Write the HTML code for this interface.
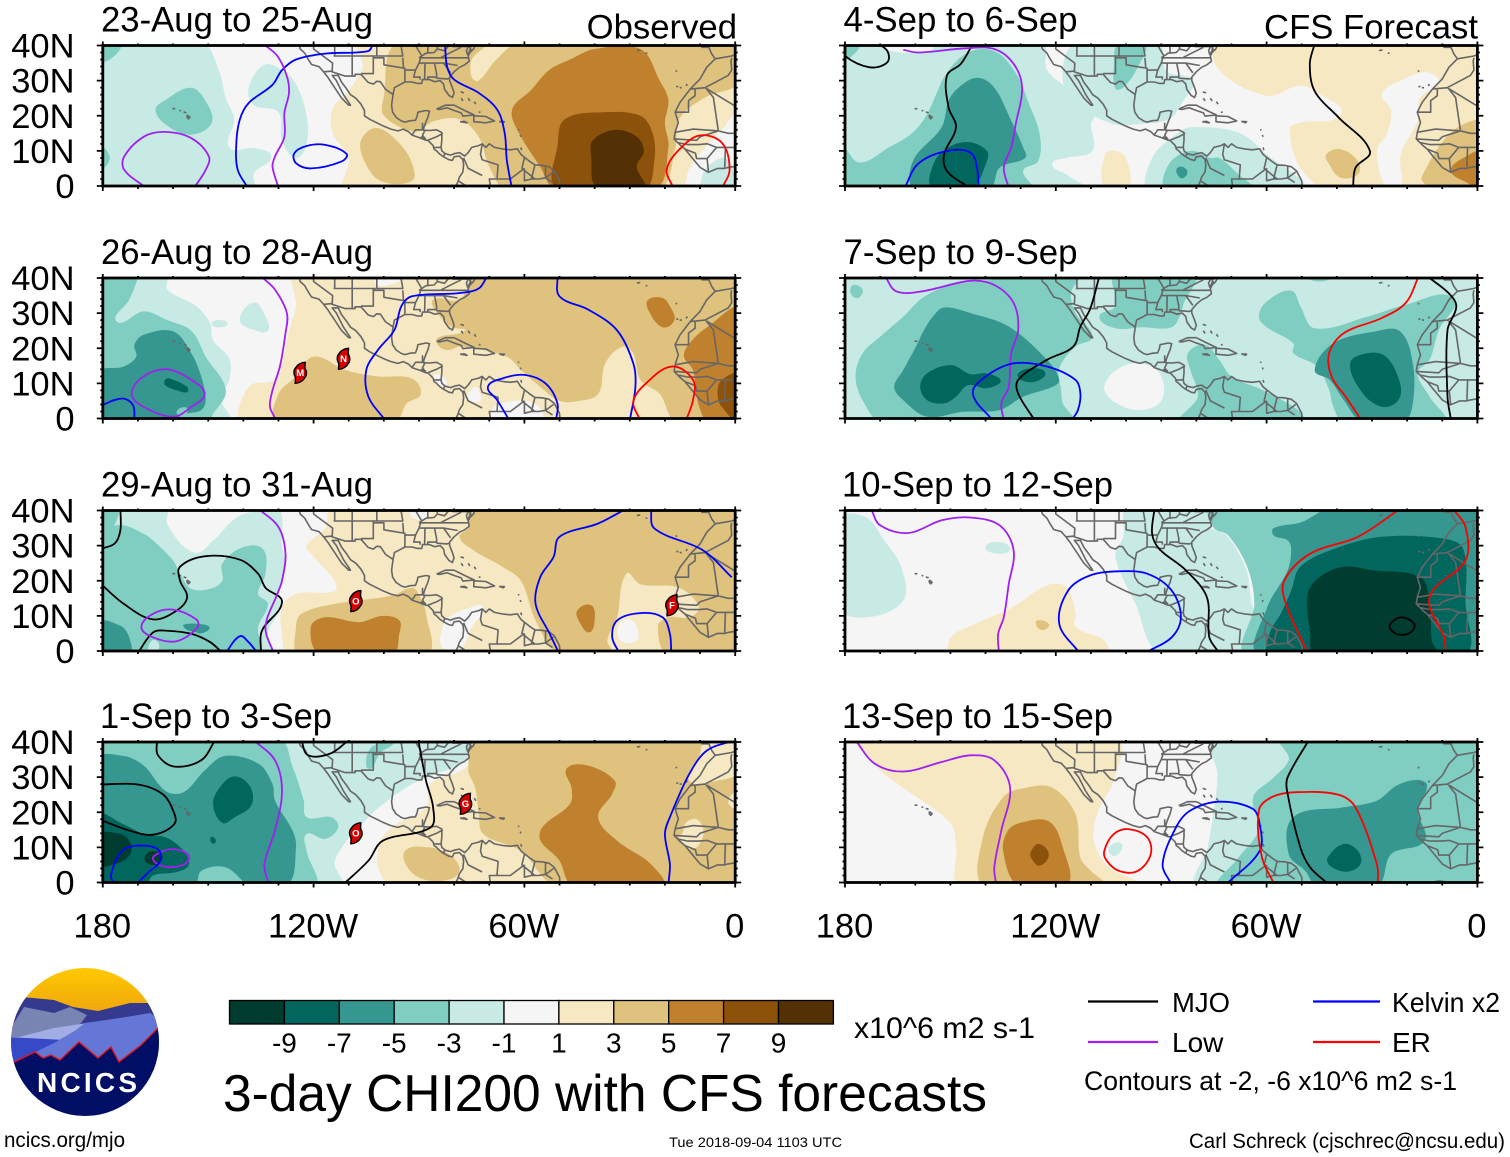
<!DOCTYPE html>
<html lang="en">
<head>
<meta charset="utf-8">
<title>3-day CHI200 with CFS forecasts</title>
<style>
html,body{margin:0;padding:0;background:#fff;width:1510px;height:1157px;overflow:hidden}
svg{display:block}
text{font-family:"Liberation Sans",Arial,sans-serif;fill:#000}
</style>
</head>
<body>
<svg id="chart" xmlns="http://www.w3.org/2000/svg" width="1510" height="1157" viewBox="0 0 1510 1157">
  <rect x="0" y="0" width="1510" height="1157" fill="#fff"/>
  <g id="panels"></g>

  <g id="colorbar"></g>
  <text x="854" y="1038" font-size="30" textLength="181" lengthAdjust="spacingAndGlyphs">x10^6 m2 s-1</text>
  <text x="223" y="1111" font-size="51.5" textLength="764" lengthAdjust="spacingAndGlyphs">3-day CHI200 with CFS forecasts</text>

  <g>
    <line x1="1088" x2="1158" y1="1001.5" y2="1001.5" stroke="#000" stroke-width="2.2"/>
    <text x="1172" y="1012" font-size="28" textLength="58" lengthAdjust="spacingAndGlyphs">MJO</text>
    <line x1="1313" x2="1380" y1="1001.5" y2="1001.5" stroke="#0000ff" stroke-width="2.2"/>
    <text x="1392" y="1012" font-size="28" textLength="108" lengthAdjust="spacingAndGlyphs">Kelvin x2</text>
    <line x1="1088" x2="1158" y1="1042" y2="1042" stroke="#a020f0" stroke-width="2.2"/>
    <text x="1172" y="1052" font-size="28">Low</text>
    <line x1="1313" x2="1380" y1="1042" y2="1042" stroke="#ff0000" stroke-width="2.2"/>
    <text x="1392" y="1052" font-size="28">ER</text>
    <text x="1084" y="1090" font-size="27" textLength="373" lengthAdjust="spacingAndGlyphs">Contours at -2, -6 x10^6 m2 s-1</text>
  </g>

  <text x="4" y="1147" font-size="21" textLength="121" lengthAdjust="spacingAndGlyphs">ncics.org/mjo</text>
  <text x="669" y="1147" font-size="14" textLength="173" lengthAdjust="spacingAndGlyphs">Tue 2018-09-04 1103 UTC</text>
  <text x="1189" y="1148" font-size="21" textLength="316" lengthAdjust="spacingAndGlyphs">Carl Schreck (cjschrec@ncsu.edu)</text>

  <g>
    <defs>
      <clipPath id="logoClip"><ellipse cx="85" cy="1042" rx="74" ry="74"/></clipPath>
      <linearGradient id="sky" x1="0" y1="0" x2="0" y2="1"><stop offset="0" stop-color="#ffca00"/><stop offset="1" stop-color="#eb9a12"/></linearGradient>
    </defs>
    <g clip-path="url(#logoClip)">
      <rect x="10" y="967" width="150" height="60" fill="url(#sky)"/>
      <path d="M5,1020 L22,997 L54,1000 L73,1007 L98,1011 L130,1003 L149,1003 L165,1025 L165,1070 L5,1070Z" fill="#353a8f"/>
      <path d="M5,1030 L14,1023 L24,1007 L54,1013 L70,1007 L87,1015 L81,1023 L60,1036 L5,1048Z" fill="#7a84b2"/>
      <path d="M5,1037 L19,1037 L54,1028 L87,1023 L89,1030 L60,1040 L32,1040 L5,1043Z" fill="#a2ade6"/>
      <path d="M5,1037 L65,1040 L43,1050 L14,1064 L5,1070Z" fill="#3649c6"/>
      <path d="M11,1064 L54,1043 L76,1030 L85,1023 L120,1018 L150,1013 L158,1018 L162,1032 L158,1070Z" fill="#6476d6"/>
      <path d="M5,1062 L14,1062 L35,1052 L43,1058 L51,1055 L60,1060 L79,1042 L98,1058 L111,1047 L119,1062 L141,1045 L158,1028 L165,1026 L165,1120 L5,1120Z" fill="#000e66" stroke="#e01818" stroke-width="1.4"/>
    </g>
    <text x="37" y="1092" font-size="28" font-weight="bold" textLength="100" lengthAdjust="spacing" style="fill:#fff">NCICS</text>
  </g>
</svg>

<script>
/* ---------- colour scale ---------- */
const levelValues = [-11,-9,-7,-5,-3,0,3,5,7,9,11];
const levelColors = ['#003c30','#01665e','#35978f','#80cdc1','#c7eae5','#f5f5f5','#f6e8c3','#dfc27d','#bf812d','#8c510a','#543005'];
const colorbarTicks = ['-9','-7','-5','-3','-1','1','3','5','7','9'];

/* ---------- axis ticks ---------- */
const lonTicks = [180,120,60,0];
const lonTickLabels = ['180','120W','60W','0'];
const latTicks = [40,30,20,10,0];
const latTickLabels = ['40N','30N','20N','10N','0'];

/* ---------- panel captions ---------- */
const panelTitles = ['23-Aug to 25-Aug','26-Aug to 28-Aug','29-Aug to 31-Aug','1-Sep to 3-Sep','4-Sep to 6-Sep','7-Sep to 9-Sep','10-Sep to 12-Sep','13-Sep to 15-Sep'];

/* ---------- filled anomaly contours: [level, [[lonW,lat],...]] painted in order ---------- */
const fills0 = [
 [-3,[[185,42],[152,41],[147,33],[145,25],[142.6,19],[144,11],[137,10.8],[132,8.4],[137,3.6],[137,-2],[185,-2]]],
 [-3,[[134,34.5],[138.5,28],[137,23],[130,21],[129,13],[125,8],[122,12],[122,20],[125,29],[129,33]]],
 [-5,[[162,24.6],[155,28],[151,24.6],[149,18],[155,14.6],[162,17.4],[165,21.7]]],
 [-5,[[182,36],[178,36],[175,41],[182,41]]],
 [-5,[[181,11],[178,8],[181,5]]],
 [3,[[107,41],[106,34],[108,30],[111,26],[114.6,22],[114.6,15],[110,8],[111,-1],[14.6,-1],[13.3,4.6],[5,15],[-2,22],[-2,41]]],
 [0,[[13.6,-1],[12.5,4.6],[5,14],[-2,21],[-2,-1]]],
 [-3,[[9,-1],[9,4],[6,7],[3,8],[1,6],[1,-1]]],
 [5,[[96,41],[71,41],[75,36],[75,31],[73,30],[68,36],[61,41],[-2,41],[-2,30],[9,25],[16,19],[17,11],[22,-1],[65,-1],[70,5.5],[73,14],[78.5,19],[86,18.4],[91,15.5],[100,20],[100,25.5]]],
 [5,[[102,16.5],[106.5,13],[105.5,7],[101,1.5],[92,1.5],[92,6.5],[95.5,12]]],
 [7,[[40,39],[27,39],[21.5,30],[19,24.6],[20,18],[19,11],[23,-1],[51,-1],[55.5,5.5],[61.5,15],[63.5,21.7],[58,27.4],[53,33],[47,36]]],
 [9,[[50.5,-1],[50.5,12],[48.5,19],[37.5,21],[27,20],[23.5,15],[23,7.4],[26,-1]]],
 [11,[[39,-1],[41,8.4],[40.5,13],[34,16],[28,14],[26,10],[28,5.5],[26,-1]]]
];
const fills1 = [
 [3,[[125,41],[125,32],[127,25],[129,16],[131,11],[138.5,9],[140,-1],[-2,-1],[-2,41]]],
 [0,[[102,41],[102,38],[97,38.5],[93,41]]],
 [0,[[86,12],[84,12.5],[82,10],[83.5,9],[85.5,10]]],
 [0,[[76,7],[74,9],[73,8],[72.5,5],[74.5,4.8],[76.5,5.5]]],
 [0,[[69,-1],[69,3],[66,4.5],[60,5],[55.5,3],[55.5,-1]]],
 [-3,[[162,41],[161.6,36.7],[153.4,32],[149.4,27],[148.7,22.4],[144,17],[144,11],[146.6,6],[144,-1],[182,-1],[182,41]]],
 [-3,[[147,28],[149,27],[147,26],[144.5,27]]],
 [-3,[[137,33],[141,28],[137,25.2],[133,25],[133.7,29]]],
 [-5,[[170,40],[172.5,33.8],[176,27.6],[168.4,30.5],[161.6,28],[154.8,25],[150.7,17.6],[145,8],[149,0.5],[149,-1],[182,-1],[182,41],[170,41]]],
 [-7,[[171,21],[168.4,23.8],[160,24.8],[154.8,18.6],[152,12],[150.7,5.2],[152,2.4],[156,1.4],[160,0],[182,-1],[182,12.9],[174,14.8],[170.5,17.6]]],
 [-5,[[159,2],[156,3],[157,0.5]]],
 [-9,[[162.3,11],[161,11.4],[156,9],[156,7.5],[158.9,8],[162.3,9.5]]],
 [5,[[73,41],[78.5,33.8],[86,33.8],[84,29],[80.6,26],[77,25],[84.7,23],[84.7,21],[82,19.5],[78,20.5],[65,17.6],[61,13.8],[55.5,9],[50,5],[44.5,5],[39,7],[37,15.7],[32,20.5],[29,18.5],[27,11],[21.5,7],[16.6,-1],[-2,-1],[-2,41]]],
 [5,[[120,17.6],[125,12],[130,7],[130.5,-1],[97,-1],[93.5,4.3],[89.5,7],[92,11.4],[102,12],[111,13.8]]],
 [7,[[20.7,34.3],[24.8,33.8],[24.8,31],[20.7,26],[17.3,28],[18.6,32]]],
 [7,[[-2,31],[8,26],[13,21.4],[14.6,17.6],[12,13.8],[11,6.2],[9,0],[8,-1],[-2,-1]]],
 [9,[[-2,12.5],[3.8,11],[5,7],[3.8,3.3],[-2,-1]]]
];
const fills2 = [
 [-3,[[162,41],[161.6,36],[154,28],[148,32],[142,38],[136,40],[130,41],[129,30],[128,24],[130,16],[129,13],[133,5],[131.7,-1],[182,-1],[182,41]]],
 [-5,[[182,33],[175,35.8],[168.4,33.4],[165.7,31.5],[160,25.8],[158,22],[154.8,17.7],[149.4,17.7],[146,20],[146,24.9],[140,29.6],[134.4,29],[133.7,22],[135.8,16.3],[133,13.4],[135.8,6.8],[135.8,-1],[182,-1]]],
 [-5,[[182,41],[176,41],[176.6,36],[180,33],[182,33]]],
 [-3,[[166,3],[164,2],[165,-1],[167,-1]]],
 [-7,[[182,8],[175,7.2],[172.5,3.9],[172.5,-1],[182,-1]]],
 [-7,[[157,7.5],[151,7.5],[149.6,6.5],[152,5],[154,5.5],[156,6]]],
 [3,[[114.6,41],[116.7,35],[122,30],[120.7,27.7],[114,20],[114,17],[125,16.3],[129,12.5],[129,4.9],[127,-1],[-2,-1],[-2,41]]],
 [0,[[92,41],[92,38],[88,38],[87,41]]],
 [0,[[83.3,6.8],[81,10],[76.5,12],[71.8,12.5],[75,6.8],[78,1],[83.3,1]]],
 [5,[[75,41],[76,35],[78.5,32.5],[75,29],[66.3,24],[61,20],[56.8,8.7],[50,-1],[35,-1],[36.4,3],[33.6,9.6],[31,22],[27,19],[16,18],[10.4,12.5],[13,9.6],[19,9.6],[22,6.8],[19,-1],[-2,-1],[-2,41]]],
 [0,[[33,7.7],[30,9],[28,6.8],[28,3],[32.7,3]]],
 [5,[[125,6.8],[123.5,10.6],[114,13.4],[97.6,15.8],[92,18],[90,16],[88,10.6],[88,-1],[124,-1]]],
 [7,[[120.8,6.8],[116.7,9.6],[107,8.2],[100.4,10],[95.6,8.7],[95.6,4.9],[97.6,-1],[118,-1]]],
 [7,[[45,11.5],[41,13],[40,8.7],[41.5,5.3],[44,7.7]]]
];
const fills3 = [
 [-3,[[74,41],[77,34.8],[87.4,30],[92,28],[97.6,24.3],[104.4,18.6],[114,6.2],[112,-1],[182,-1],[182,41]]],
 [-5,[[130,41],[126,33],[122.8,23.3],[122,18.6],[115,18.6],[113,15.7],[116.7,12.4],[122,13.8],[122,9],[120,-1],[182,-1],[182,41]]],
 [-5,[[104,38],[105,33],[103.5,32.5],[101,37],[97,40],[100,40]]],
 [-7,[[182,35],[174,36],[168.4,33.3],[162,26],[157,25.7],[151,31.9],[145.3,36],[135.7,33.8],[131.7,28],[131,23.3],[126,14.8],[125,10],[127.6,-1],[137.8,-1],[145,4.3],[152,3.3],[154,-1],[182,-1]]],
 [-9,[[182,19],[174,16.5],[168.4,13.8],[162,12.8],[157,9],[155.5,5],[159,3],[165.7,2],[168,-1],[182,-1]]],
 [-9,[[142.5,30.2],[138,27.2],[137.7,22],[142.5,18.6],[146,17],[148.6,22.4],[146.6,27.2]]],
 [-9,[[149,13],[147.8,12],[148.5,11],[149.4,12]]],
 [-11,[[182,13.3],[175,13.8],[172,11],[172.5,7.6],[176.6,5.2],[182,5.2]]],
 [-11,[[167.7,8],[165,9],[163,7.6],[164.3,5.2],[167.7,5.7]]],
 [3,[[74,41],[76.5,32.9],[86.7,28],[88,21.4],[96.3,16.7],[100.4,12.9],[101.7,9],[101.7,4.3],[97.6,-1],[-2,-1],[-2,41]]],
 [5,[[73,41],[76,32.4],[74,27],[73,20],[71.7,13.8],[61,9],[50.6,-1],[-2,-1],[-2,41]]],
 [3,[[8.6,41],[10,36.7],[13,29],[5,29],[-2,32],[-2,41]]],
 [3,[[16,13],[15,14],[14,17],[11,18],[9,14.5],[11,10],[14,10]]],
 [3,[[-2,26],[2,23],[-2,21]]],
 [5,[[94,9],[87,10],[81.4,8],[78.5,4.3],[80,1.4],[87,0.5],[92.5,3.3]]],
 [7,[[48,32.4],[42,33.3],[34.3,29],[35,25.2],[39,18.6],[33.6,11.9],[24,5.2],[20.7,-1],[46,-1],[50,6.2],[55.7,13.8],[47,22.4],[46.6,27]]]
];
const fills4 = [
 [-3,[[182,41],[124,41],[122.5,33],[115.7,27.1],[109,20.5],[110,17.6],[109.6,10],[117,8],[121,6.2],[117,3.3],[111.6,-1],[182,-1]]],
 [0,[[170,41],[167,38.5],[160,38],[155,39],[158,41]]],
 [-3,[[114,41],[91,41],[88.5,32.8],[81,30],[83.7,24.3],[87.8,19],[96.7,17.6],[103.5,17.6],[112,22],[118,30]]],
 [-3,[[93.3,-1],[92.6,8],[85.8,14.7],[81.7,16.7],[68,15.2],[60,9],[50,-1]]],
 [3,[[106,9],[103,10],[100,8],[99.5,-1],[106,-1]]],
 [-5,[[182,12],[176,6.7],[167.5,11],[160.7,15.2],[156.6,20.5],[154,26.2],[151.8,31],[147,36.7],[141.6,39],[136,37.6],[130.7,31],[128,24.3],[124.6,14.8],[125,7.1],[129.3,4.3],[126.6,-1],[182,-1]]],
 [-5,[[102,41],[94.6,41],[96.7,33.8],[100.7,28.1],[103,27.7],[103.5,33.8]]],
 [-5,[[182,41],[176,41],[178,37],[182,36]]],
 [-5,[[88.5,-1],[87.8,6.2],[81.7,10],[76.2,8],[73.5,8],[68,3.3],[64,-1]]],
 [-7,[[147.7,28],[142.3,30.8],[137.5,28],[132.7,18.6],[129.3,11],[128.7,8],[136,5.2],[139,-1],[160,-1],[160.7,7],[152.5,16.7],[150.5,24.3]]],
 [-9,[[154.5,7],[149.8,11.4],[144.3,12.4],[139.6,10],[139.6,7],[144.3,-1],[155,-1]]],
 [-7,[[85.5,5],[84,5.5],[82.5,4],[84,2.2],[85.5,3.5]]],
 [3,[[73.8,41],[73.8,33.3],[60,25.7],[50.4,28.6],[45,26.2],[38.8,20.5],[50.4,18],[53.4,16.2],[50.4,5.2],[42.2,-1],[-2,-1],[-2,41]]],
 [0,[[11,29.5],[14.3,32.4],[21.8,30],[27.2,26.2],[24.5,21.4],[25.8,14.8],[28.6,10],[25.8,-1],[21.8,-1],[21.8,9],[17,18.6],[16.3,25.2]]],
 [5,[[43,9],[39,10.5],[34,7.1],[34,3.3],[39,2.4],[42.2,6.2]]],
 [5,[[-2,18],[4,17.6],[9.7,12.9],[15,4.3],[15.7,1.4],[11,-1],[-2,-1]]],
 [7,[[-2,9.5],[4,8],[7.5,4.3],[3,1],[-2,-1]]]
];
const fills5 = [
 [-3,[[-5,-5],[185,-5],[185,45],[-5,45]]],
 [-5,[[169.5,-1],[175,5.2],[177,12],[175,18.6],[170,23.3],[163.4,29],[158,34.3],[151,37.6],[140,39.3],[124,41],[113.7,41],[115.7,35.7],[114.4,30],[109.6,23.3],[114.4,20.5],[119,14.3],[118.5,8],[118,4.3],[115,-1]]],
 [-5,[[103,41],[103,32],[107.6,29],[103,25.7],[95.3,26],[87,26],[84.4,30],[83.5,33],[80.3,38.6],[80,41]]],
 [-5,[[49,40.5],[41,40.5],[45,39]]],
 [-5,[[82.4,18.6],[77.6,21],[73.5,16.7],[70,12],[61,8],[50.4,1.9],[49.7,-1],[84.4,-1],[79.6,6.2],[81.7,13.8]]],
 [-5,[[62.2,29],[60,33.3],[53,36.4],[50.4,32],[46.3,25.7],[31.3,29],[20.4,32.4],[6.8,34.3],[11,25.2],[13.6,16.7],[17,12.9],[13.6,6.2],[9.5,-1],[38,-1],[41,3.3],[42.2,8.1],[45.6,14.8],[52.4,18.6],[52.4,21.4],[60,26]]],
 [-5,[[177.7,38],[175,36.7],[176.3,34.3],[178.4,35.7]]],
 [-7,[[158,24.3],[155,29],[151.8,31.6],[144.3,30],[133.4,26.2],[122.5,16.7],[119,11],[121,9],[129.3,6.2],[136,2.4],[146.4,1.9],[156.6,0.5],[163.4,5.2],[166,9],[163.4,13.8],[159.3,21.4]]],
 [-9,[[158.6,9],[156.6,12.9],[149.8,15.2],[144.3,12.6],[140,12.9],[136,11.4],[136,10],[140,8.6],[145,9.5],[148.4,6.2],[151.8,4.3],[156.6,5.2]]],
 [-9,[[130.7,12.9],[126.6,14.3],[123,12.9],[125.9,10.5],[130,11]]],
 [-7,[[46.3,13.8],[41,21.4],[29,24.8],[22,24.8],[18.4,15.7],[18.4,4.3],[21,-1],[32.7,-1],[38,5.2],[42,11]]],
 [-9,[[36.2,15.7],[31.4,18.6],[26,17.6],[22,10],[22.5,5.2],[27,3.3],[32.5,7]]],
 [0,[[106.2,9],[102.8,13.8],[96.7,15.7],[90.5,12.9],[89.9,5.2],[96.7,2.4],[104,5.2]]]
];
const fills6 = [
 [-3,[[182,37.4],[174.3,38.2],[168.8,31.5],[164,23.9],[163.4,14.4],[173.6,9.6],[182,12.5]]],
 [-3,[[140,29.6],[136,31],[133,29],[136.6,27.7]]],
 [-3,[[99.4,41],[100.8,32.5],[103,26.8],[97.3,13.4],[90,-1],[64,-1],[64.7,16.3],[66,23.9],[71.5,33],[76,35.3],[75,41]]],
 [-5,[[76,41],[75,35],[71,33],[65.5,23.9],[63.5,13.4],[65.5,-1],[-2,-1],[-2,41]]],
 [-7,[[41,41],[50,36.7],[58,35],[58,32.9],[54,31.5],[53,29],[54,23],[60,12],[62,-1],[-2,-1],[-2,41]]],
 [-9,[[9.5,32],[27.3,32.5],[41,29],[50.4,24],[53,17.2],[56,10.6],[59.2,4.9],[59.2,-1],[4,-1],[3.4,13.8],[4,29]]],
 [-11,[[48.3,16.3],[47.6,4.9],[46.3,-1],[11.6,-1],[13,3],[13.6,14.4],[16.3,21],[30,23],[38,24],[45,21]]],
 [3,[[122.5,18.7],[117,18.2],[114.4,10.6],[114.4,6.8],[106.2,3],[105.5,-1],[149.8,-1],[149.8,3.9],[143,7.7],[132.3,12.5]]],
 [3,[[162,41],[158,40],[154,41]]],
 [5,[[125.3,8.7],[122,7.7],[123.3,6],[125.3,6.8]]]
];
const fills7 = [
 [3,[[176,41],[170,32],[163.4,27],[149.8,16.7],[148.4,10],[147,-1],[95.6,-1],[105,4.3],[109,11],[109,16.7],[107,22.4],[103.5,29],[102.8,41]]],
 [5,[[128.5,27],[121,27],[114.4,19.5],[113,7],[110,3.3],[106,-1],[140,-1],[141,11.9],[135,24.3]]],
 [7,[[130,17],[122,17.4],[118,10],[117,-1],[130.5,-1],[135,9],[133.6,14.8]]],
 [9,[[124.8,11],[122,8],[124.6,4.8],[127,7],[127,9]]],
 [-3,[[75.6,41],[74,31],[75.6,16.7],[76.8,10],[79.6,-1],[-2,-1],[-2,41]]],
 [-3,[[103,11.4],[101,10.5],[103,7.6],[105,9]]],
 [-5,[[57,41],[55,38],[53.7,34.8],[58.4,29.5],[63.8,24.3],[62.4,14.8],[68,7.1],[73.4,-1],[-2,-1],[-2,41]]],
 [-7,[[52.4,18.6],[38,21.4],[28.6,23.3],[23,27.6],[17,29.2],[14.3,27.6],[17,20.5],[15,11.9],[24.5,8.1],[28.6,-1],[45.6,-1],[49,3.3],[53.7,8.1]]],
 [-9,[[38,11],[34,9],[33.3,5.2],[37.3,3.1],[42,4.8],[42.6,7.1]]],
 [-7,[[14,-1],[11,0.7],[7,-1]]]
];

/* ---------- anomaly contour lines: [kind, closed, [[lonW,lat],...]] ---------- */
const lines0 = [
 ['Kelvin',0,[[103,40.5],[104.5,38.4],[116.7,37.7],[125,36],[129,33],[131.7,28.8],[138.5,23.6],[141,18.9],[142,12],[141.6,4.6],[138.7,-0.5]]],
 ['Kelvin',0,[[82.6,40.5],[82,34],[80,30.3],[73,26.5],[67.7,21.7],[65.6,15],[65,7.4],[63.6,-0.5]]],
 ['Kelvin',1,[[125.5,9.3],[122,11.4],[116.7,11.7],[110.6,9.1],[112,7],[120.7,5],[125,6.5]]],
 ['Low',0,[[134.4,40.5],[130.3,37],[127.6,31.2],[127,26.5],[128.3,20.8],[128.3,14],[131,8.4],[131.7,5.5],[130,-0.5]]],
 ['Low',0,[[167.7,-0.5],[173.9,4.6],[173.9,8.4],[168.4,14],[162.3,15.4],[154.8,13.6],[149.8,8.4],[150.7,4.6],[154,-0.5]]],
 ['ER',0,[[17.6,-0.5],[19.5,4.6],[16,10.3],[10,14.4],[3.7,12.2],[1.6,4.6],[3.7,-0.5]]]
];
const lines1 = [
 ['Low',0,[[135,40.5],[131,36.7],[127.6,30],[128,24.3],[129.6,14.8],[131.7,8],[132.4,3.3],[130.6,-0.5]]],
 ['Low',1,[[171.8,7],[168.4,12],[161.6,14],[154.8,11],[151,7],[154.8,3.3],[160,0.5],[168.4,3.3]]],
 ['Kelvin',0,[[181,3.5],[174.5,5.7],[171.4,3.8],[171,-0.5]]],
 ['Kelvin',0,[[70.6,40.5],[73,37],[78.6,35.7],[92,34.8],[95,32],[97,25.2],[101.7,19.5],[105,13.8],[104.4,6.2],[99.6,-0.5]]],
 ['Kelvin',0,[[64.3,-0.5],[67.7,5.2],[70.4,9],[66.3,11.4],[60,12.4],[54,10],[50.6,4.3],[51,-0.5]]],
 ['Kelvin',0,[[50.6,40.5],[50,34.8],[41.8,31],[33.7,25.2],[29,15.7],[28.4,9],[30,-0.5]]],
 ['ER',0,[[27,-0.5],[29,4.8],[25.4,10],[18,14.8],[12,11],[12,5.2],[14,-0.5]]]
];
const lines2 = [
 ['MJO',0,[[175,40.5],[175,34.4],[176.6,30.6],[181,29]]],
 ['MJO',0,[[181,19.5],[174,13.4],[165.7,9],[159,11.5],[156,15.3],[158,20],[158,24],[150.7,27],[141,26],[135.8,22],[133.7,18],[129,13.9],[134.7,5.8],[135,-0.5]]],
 ['MJO',0,[[170,-0.5],[165.7,5.3],[162.3,5.8],[154.8,4.9],[149.4,2.5],[146,-0.5]]],
 ['Low',0,[[135.7,40.5],[130,35.3],[128,27.7],[129,20],[130.3,16.3],[133.7,6.8],[131.4,-0.5]]],
 ['Low',1,[[169,6.8],[165.7,10.6],[160,11.8],[153.4,9],[153,6.8],[159,2.8],[165.7,3.9]]],
 ['Kelvin',0,[[145,-0.5],[141,4.2],[138.5,2.5],[136,-0.5]]],
 ['Kelvin',0,[[31,40.5],[39,36.3],[50,32.5],[51.7,26.8],[55.5,21],[56.8,13.4],[52.8,4.9],[50.2,-0.5]]],
 ['Kelvin',0,[[24,40.5],[23,34.9],[9.2,28.7],[1,21]]],
 ['Kelvin',0,[[33,-0.5],[35,3.9],[33.6,8.7],[27,10.8],[20.7,9.6],[18.6,4.9],[18.2,-0.5]]]
];
const lines3 = [
 ['MJO',0,[[164.6,40.5],[164.3,36.2],[159.6,33],[152,34.8],[148,40.5]]],
 ['MJO',0,[[181,27.9],[170,27.9],[163,25.2],[160,20.5],[159.6,16.7],[165.7,13.6],[172.5,14.8],[181,18]]],
 ['MJO',0,[[123.5,40.5],[121.5,36.2],[115.3,36.7],[110,40.5]]],
 ['MJO',0,[[111.5,-0.5],[104.4,6.2],[100.3,11.9],[86.7,15.7],[86,21.4],[88,29],[90.2,40.5]]],
 ['Low',0,[[137,40.5],[131,34.8],[129,26],[131,14.8],[134,5.2],[132.8,-0.5]]],
 ['Low',1,[[165.7,6.6],[163.6,8.6],[159.6,9.5],[155.5,7.6],[156.8,5.2],[162,4.5]]],
 ['Kelvin',0,[[176.6,-0.5],[177.7,1.9],[174.5,9],[170,10.5],[164.4,9.5],[163.6,6.2],[167,2.9],[170.5,-0.5]]],
 ['Kelvin',0,[[0,40.5],[8,37.6],[13,31],[18.6,18.6],[20,13.8],[18.6,5.2],[19,-0.5]]]
];
const lines4 = [
 ['MJO',0,[[181,40],[180,37],[173,33.8],[168,35.2],[168,38.5],[171.5,41]]],
 ['MJO',0,[[143.6,40.5],[147,34.8],[151,31.4],[150.5,22.3],[148.4,16.7],[151.8,9],[151,4.3],[144.6,-0.5]]],
 ['MJO',0,[[46.3,40.5],[47.7,34.8],[46.3,27],[39.5,19.5],[30.6,10],[34.7,5.2],[35.4,-0.5]]],
 ['Low',0,[[163.4,38.8],[159.3,38],[145.7,39.2],[137.5,39],[132,34.8],[129.6,28],[131.4,17.6],[132.7,11],[134.8,5.2],[133.4,-0.5]]],
 ['Kelvin',0,[[163,-0.5],[159.3,6.2],[151.8,9.8],[144.3,9.5],[142.3,4.3],[142,-0.5]]]
];
const lines5 = [
 ['Low',0,[[168.6,40.5],[165.4,36.2],[158,36.2],[144.3,39.2],[137.5,38],[132,32.9],[130.7,25.2],[132.7,18.6],[133.4,9],[135.5,4.3],[134.8,-0.5]]],
 ['MJO',0,[[107.6,40.5],[110.3,31],[113,26.2],[115,20.5],[122.5,16.7],[130.7,11],[130.7,7.1],[126,-0.5]]],
 ['Kelvin',0,[[138,-0.5],[143.6,7.1],[140,11.9],[132,15.7],[122.5,14.8],[114.4,11],[113,7.1],[113.7,2.4],[115.5,-0.5]]],
 ['ER',0,[[16.7,40.5],[20.4,32.9],[27.2,28.6],[38,24.3],[42.2,18.6],[41.5,11.9],[37.5,6.2],[33,-0.5]]],
 ['MJO',0,[[14.3,40.5],[8.2,35.7],[6,31.9],[8.5,25.2],[8.5,6.2],[7.5,-0.5]]]
];
const lines6 = [
 ['Low',0,[[172.6,40.5],[170,35.8],[162,33.6],[152.5,37.2],[144.3,38],[136,35.8],[132,28.7],[133.4,19],[134.8,9.6],[136.4,4.9],[136.2,-0.5]]],
 ['Kelvin',0,[[113.3,-0.5],[119,7.7],[116.5,17.2],[110.3,21.5],[102,22.7],[94,22],[87,17.2],[84.4,9.6],[87,3.9],[94.6,-0.5]]],
 ['MJO',0,[[91.9,40.5],[92.6,33.4],[90.5,29],[83,23],[77,15.3],[76.3,3.9],[73.5,-0.5]]],
 ['MJO',1,[[24.8,7.7],[21.8,9.6],[18,7.7],[19,5.3],[22.5,4.7],[24.8,6.3]]],
 ['ER',0,[[22,40.5],[34,32.5],[47.6,27.7],[55,20],[54.5,13.4],[48.3,-0.5]]],
 ['ER',0,[[7,40.5],[3.4,35.3],[3.4,25.8],[13.6,15.3],[9.5,3.9],[9,-0.5]]]
];
const lines7 = [
 ['Low',0,[[177,40.5],[171.5,33.8],[163.4,31.6],[152.5,34.3],[144.3,36.2],[137.5,34.8],[133,27],[135.5,14.8],[137.5,4.3],[137,-0.5]]],
 ['ER',1,[[106.2,9],[103.5,13.8],[99.4,15.2],[94,12.9],[93,8],[96.7,3.3],[102,3.3],[105.5,6.2]]],
 ['Kelvin',0,[[87.1,-0.5],[89.6,5.2],[85.8,15.7],[81.7,20.5],[73.5,23],[64,21],[62,16.7],[62,9],[71.5,-0.5]]],
 ['ER',0,[[57.8,-0.5],[61.3,7.1],[62.2,20.5],[58.5,24.3],[51.7,25.7],[39.5,25],[34.7,21.4],[28.6,5.2],[28.3,-0.5]]],
 ['MJO',0,[[48,40.5],[54,30],[54.2,26.2],[50.4,10],[47.6,4.3],[42.4,-0.5]]]
];
const panelFillSets = [fills0,fills1,fills2,fills3,fills4,fills5,fills6,fills7];
const panelLineSets = [lines0,lines1,lines2,lines3,lines4,lines5,lines6,lines7];

/* ---------- tropical cyclones: [letter, lonW, lat] ---------- */
const storms1 = [['M',123.8,13],['N',111.5,17]];
const storms2 = [['O',108,14.2],['F',18,13]];
const storms3 = [['O',108,14],['G',76.8,22.4]];
const panelStorms = [[],storms1,storms2,storms3,[],[],[],[]];

/* ---------- base map (geography in degrees west, degrees north) ---------- */
const coastSegments = [
 /* Pacific coast of the Americas */
 [[124.3,41],[123.8,39],[122.5,37.8],[121.8,36.5],[120.6,34.6],[118.5,34],[117.2,32.6],[116,31],[115,29.5],[114,28],[113,26.5],[112,25],[110,23],[109.5,23],[110.5,24.5],[111.5,26],[112.5,28],[113.5,30],[114.7,31.5],[113,31.5],[112,29.5],[110.5,27.5],[109.5,26],[108,25],[106.5,23.3],[105.5,21.5],[105.5,20],[104,19],[102,18],[100,17],[98,16.2],[96,15.7],[94.5,16.2],[93,15.5],[92,14.5],[90,13.8],[88,13],[87.5,13],[86,11.5],[85.7,10.5],[85,10],[84,9],[83,8.3],[81.5,7.5],[80.5,7.3],[80,8.3],[78.5,8.5],[77.5,7.5],[77.3,6],[77.5,4],[78.5,2.5],[79,1],[80,-1]],
 /* Atlantic and Gulf coast */
 [[74,41],[74,40],[74.5,39],[75.5,38],[76,37],[75.7,35.5],[77,34.5],[78.5,33.8],[80,32.5],[81.3,31],[81.3,30],[80.5,28],[80,26.5],[80.5,25.2],[81.5,25.8],[82.7,27.5],[83,29],[84,30],[85.5,29.7],[87,30.3],[89,30.3],[89.2,29.2],[90.5,29.2],[92,29.6],[94,29.6],[95.5,28.8],[97,28],[97.4,26],[97.8,23],[97.5,21],[96.5,19.5],[95,18.5],[94,18.2],[92.5,18.6],[91,18.7],[90.5,20],[90.3,21],[88,21.5],[87,21.3],[87.5,19.5],[88,18.3],[88.5,17],[88.8,15.9],[87,15.8],[85,16],[83.5,15.2],[83.5,13],[83.7,11],[83.5,10],[82.5,9.2],[81,8.8],[80,9.2],[78.5,9.5],[77,8.5],[76,9.5],[75,11],[73,11.5],[72,12],[71,11],[70,12],[68.5,11],[66,10.5],[64,10.3],[62,10.6],[61,9],[60,8.2],[58.5,7],[57,6],[55,5.9],[53,5.5],[51.5,4.3],[50,1.5],[49.8,-1]],
 /* Chesapeake and Delaware bays */
 [[76,39.6],[76.5,38.6],[76.2,37.4],[75.8,38],[75.4,39],[75.5,39.6]],[[75,40],[75.5,39.3],[75,38.6]],
 /* US states */
 [[120,41],[120,39],[114.6,35],[114.7,32.7]],
 [[117,32.5],[114.7,32.7],[114.8,32.5],[111,31.3],[108.2,31.3],[108.2,31.8],[106.5,31.8],[104.5,29.5],[103,29],[102,29.8],[101,29.7],[99.5,27.5],[97.3,26]],
 [[114,41],[114,37]],[[109,41],[109,31.3]],[[102,41],[102,37]],
 [[114.3,37],[94.6,37],[95.3,41]],
 [[103,37],[103,32],[106.5,32]],
 [[103,36.5],[100,36.5],[100,34.5],[97,34],[94.5,33.6],[94,33.5],[94,29.7]],
 [[90,36.5],[75.9,36.5]],[[90,35],[83,35],[79,34.3]],
 [[88.3,35],[88.4,30.3]],[[85.6,35],[85,32],[85,30.7]],
 [[89.5,36.5],[90,35],[91,33],[91.5,31],[89.7,31],[89.7,30.3]],
 [[90,36.5],[89.2,37],[91,40],[91.5,41]],[[94,33],[91,33]],[[94.6,36.5],[94.4,33.6]],
 [[85,31],[87.5,31],[87.5,30.3]],[[85,30.7],[82,30.5],[81.4,30.7]],
 [[87.5,37.8],[87.5,41]],
 [[89.2,37],[88,37.8],[85.7,38],[84.8,39],[82.7,38.5],[81.7,39.8],[80.5,40]],
 [[82,37.5],[83.7,36.6]],[[82,37.5],[80,38.5],[78,39.5]],[[80.5,39.7],[75.5,39.7]],[[83,35],[81,32.2]],
 [[84.8,41],[84.8,39]],[[80.5,41],[80.5,39.7]],
 /* Central America borders */
 [[92,14.5],[91,16],[89,16],[89,18]],[[88,13],[89,14.5],[88.3,15.8]],[[87.5,13],[85,14],[83.2,15]],[[85.7,11],[83.7,11]],[[83,8.3],[82.6,9.5]],[[89.5,14],[88,13.5]],
 /* South America borders */
 [[72,12],[72.5,9],[72,7.5],[67.5,6],[67.8,2],[70,2],[69.5,-1]],[[60,8],[60.7,5],[57,2]],[[57,6],[58,2]],[[54,5.5],[54,2.3],[51.7,4]],
 [[78.7,1.4],[75,-1]],[[67.8,2],[64,2],[60,5]],[[60,5],[60,1.5],[58,2],[56,2],[54,2.3],[52,1]],[[77.3,8],[76,5],[72,3]],
 /* Hawaii */
 [[160.2,22],[159.4,22]],[[158.2,21.5],[157.7,21.4]],[[157,21.1],[156.2,20.8]],[[156,20.2],[155.2,19.6],[155.6,19.1],[156,19.6],[156,20.2]],
 /* Caribbean */
 [[85,21.9],[82.5,23],[80,23],[77,21.5],[74.3,20.2],[77.5,19.9],[78,20.8],[80,21.5],[82,22.3],[84,21.8],[85,21.9]],
 [[74.4,20],[71,19.8],[68.5,18.5],[71,18],[74.4,18.3],[74.4,20]],
 [[78.3,18.3],[76.3,18],[77,18.4],[78.3,18.3]],[[67.2,18.4],[65.7,18.3],[66,18],[67.2,18.4]],
 [[78.2,26.8],[77.2,26.5]],[[78,25],[77.5,24.2]],[[76,25],[75.5,24.2]],[[74.3,24],[73.8,23.3]],[[73,21],[72.5,21]],[[61.7,16.2],[61.6,15.8]],[[61.2,14.5],[61,14]],[[61,11],[60.8,10.2]],
 [[28,38.6],[27,38.7]],[[25.5,37.8],[25,37.8]],[[17,32.7],[16.5,32.7]],
 [[16.8,28.3],[16.2,28.3]],[[15.8,28],[15.2,28]],[[14,28.5],[13.6,29]],
 /* Iberia and Africa */
 [[9.5,41],[9.5,39.5],[7.5,39.5],[6.7,37.6],[5.7,36.2]],
 [[5.7,36.2],[1,37],[-1,37.8]],
 [[5.7,36.2],[8.1,33.8],[10,30.5],[12.8,27.6],[15.7,23.8],[17.1,21],[16.2,18.1],[17.1,15.3],[17.4,13.4],[15.8,11.8],[14.3,10.5],[12.4,8.2],[10,5.3],[7.6,3.9],[5,5],[3,5],[2,5.3],[-1.4,5.8]],
 [[17.1,21],[13.3,21],[13.3,24.3],[11.4,25.7],[11.4,27.6]],[[12.8,27.6],[8.6,28]],
 [[8.6,28],[2,31.5],[1,33],[1.2,35.5],[1,36.5]],[[8.6,28],[-1.4,21.9]],
 [[8.1,27.6],[6.2,25.2],[4.8,15.7],[11.9,16.2],[17.1,15.3]],
 [[17.4,13.4],[11,13],[10,14],[4.8,15.7]],[[16.5,12.4],[13.5,11.8],[10.5,11.8],[8,12],[5.3,11],[2.6,11],[-1.4,11]],
 [[14.3,10.5],[11.3,9.3],[11,7.8],[8,7.8],[7.6,3.9]],[[2.8,11],[3,5.3]],[[4.8,15.7],[2,15],[-1.4,15]],[[5.3,11],[8,7.8]]
];

/* ---------- layout constants ---------- */
const colX = [102.8,845];
const rowY = [45.5,278,510.5,742];
const PW = 632.4, PH = 140.5;
const titleStart = [101,101,101,100,843.5,843.5,842,842];
const titleSpan = [272,272,272,232,234,234,271,271];
const SVGNS = 'http://www.w3.org/2000/svg';
const LINE_COLORS = {MJO:'#000000',Kelvin:'#0000ff',Low:'#a020f0',ER:'#ff0000'};
const svgRoot = document.getElementById('panels');

function mk(parent,tag,attrs){
  const el = document.createElementNS(SVGNS,tag);
  for(const k in attrs) el.setAttribute(k,attrs[k]);
  parent.appendChild(el);
  return el;
}
function colorFor(level){ return levelColors[levelValues.indexOf(level)]; }
function unit(a,b){
  const dx=b[0]-a[0],dy=b[1]-a[1],m=Math.hypot(dx,dy)||1;
  return [dx/m,dy/m];
}
function smoothPath(pts,closed){
  const n = pts.length;
  const at = i => closed ? pts[(i+n)%n] : pts[Math.max(0,Math.min(n-1,i))];
  let d = 'M'+pts[0][0].toFixed(1)+','+pts[0][1].toFixed(1);
  const last = closed ? n : n-1;
  for(let i=0;i<last;i++){
    const p0=at(i-1),p1=at(i),p2=at(i+1),p3=at(i+2);
    const len=Math.hypot(p2[0]-p1[0],p2[1]-p1[1])/3;
    const t1=unit(p0,p2),t2=unit(p1,p3);
    const c1x=p1[0]+t1[0]*len,c1y=p1[1]+t1[1]*len;
    const c2x=p2[0]-t2[0]*len,c2y=p2[1]-t2[1]*len;
    d+='C'+c1x.toFixed(1)+','+c1y.toFixed(1)+' '+c2x.toFixed(1)+','+c2y.toFixed(1)+' '+p2[0].toFixed(1)+','+p2[1].toFixed(1);
  }
  return closed ? d+'Z' : d;
}

function drawPanel(i){
  const col = i<4?0:1, row = i%4;
  const x0 = colX[col], y0 = rowY[row];
  const xScale = lon => x0 + (180-lon)/180*PW;
  const yScale = lat => y0 + PH - lat/40*PH;
  const project = pts => pts.map(p=>[xScale(p[0]),yScale(p[1])]);

  const g = mk(svgRoot,'g',{});
  
  

  const defs = mk(g,'defs',{});
  const clip = mk(defs,'clipPath',{id:'clip'+i});
  mk(clip,'rect',{x:x0,y:y0,width:PW,height:PH});

  const plot = mk(g,'g',{'clip-path':'url(#clip'+i+')'});
  
  

  const bg = mk(plot,'rect',{x:x0,y:y0,width:PW,height:PH,fill:'#f5f5f5'});
  
  

  panelFillSets[i].forEach(f=>{
    const p = mk(plot,'path',{d:smoothPath(project(f[1]),true),fill:colorFor(f[0])});
    
    
  });

  const coast = mk(plot,'path',{
    d:coastSegments.map(seg=>'M'+project(seg).map(q=>q[0].toFixed(1)+','+q[1].toFixed(1)).join('L')).join(''),
    fill:'none',stroke:'#666',"stroke-width":1.6,"stroke-linejoin":'round'
  });
  
  

  panelLineSets[i].forEach(l=>{
    const p = mk(plot,'path',{d:smoothPath(project(l[2]),!!l[1]),fill:'none',stroke:LINE_COLORS[l[0]],"stroke-width":1.8});
    
    
  });

  panelStorms[i].forEach(s=>{
    const cx = xScale(s[1]), cy = yScale(s[2]);
    const st = mk(g,'g',{transform:'translate('+cx.toFixed(1)+','+cy.toFixed(1)+')'});
    
    
    mk(st,'path',{d:'M5,-10.5 C1,-10.5 -3,-8 -4.5,-5 C-6.5,-3 -7,1 -5,4 C-4.5,6 -5,8.5 -5,10.5 C-1,10.5 3,8 4.5,5 C6.5,3 7,-1 5,-4 C4.5,-6 5,-8.5 5,-10.5Z',fill:'#d40000',stroke:'#000','stroke-width':1.4});
    const t = mk(st,'text',{x:0,y:3.3,'font-size':9.5,'font-weight':'bold','text-anchor':'middle',style:'fill:#fff'});
    t.textContent = s[0];
  });

  /* ticks */
  let tickD = '';
  for(let lon=0;lon<=180;lon+=10){
    const major = lon%60===0, len = major?5:3, x = xScale(lon);
    tickD += 'M'+x+','+(y0+PH)+'v'+len+'M'+x+','+y0+'v-'+(major?4:2);
  }
  for(let lat=0;lat<=40;lat+=2){
    const major = lat%10===0, len = major?6:2.5, y = yScale(lat);
    tickD += 'M'+x0+','+y+'h-'+len+'M'+(x0+PW)+','+y+'h'+len;
  }
  const ticks = mk(g,'path',{d:tickD,stroke:'#000','stroke-width':1.8,fill:'none'});
  
  

  const frame = mk(g,'rect',{x:x0,y:y0,width:PW,height:PH,fill:'none',stroke:'#000','stroke-width':2.8});
  
  

  const title = mk(g,'text',{x:titleStart[i],y:y0-14,'font-size':34.9,textLength:titleSpan[i],lengthAdjust:'spacingAndGlyphs'});
  title.textContent = panelTitles[i];
  
  

  if(col===0){
    latTicks.forEach((lat,k)=>{
      const t = mk(g,'text',{x:74.5,y:yScale(lat)+12,'font-size':34.5,'text-anchor':'end'});
      t.textContent = latTickLabels[k];
      
      
    });
  }
  if(row===3){
    lonTicks.forEach((lon,k)=>{
      const t = mk(g,'text',{x:xScale(lon)-0.5,y:y0+PH+55,'font-size':34.5,'text-anchor':'middle'});
      t.textContent = lonTickLabels[k];
      
      
    });
  }
}
panelTitles.forEach((_,i)=>drawPanel(i));

/* corner captions */
const captionObserved = mk(svgRoot,'text',{x:737,y:38.5,'font-size':34.7,'text-anchor':'end'});
captionObserved.textContent = 'Observed';


const captionForecast = mk(svgRoot,'text',{x:1478,y:38.5,'font-size':34.7,'text-anchor':'end'});
captionForecast.textContent = 'CFS Forecast';



/* colour bar */
const cbar = document.getElementById('colorbar');
const CB_X = 229.5, CB_Y = 1000.5, CB_W = 54.9, CB_H = 23.5;
levelColors.forEach((c,i)=>{
  const r = mk(cbar,'rect',{x:CB_X+i*CB_W,y:CB_Y,width:CB_W,height:CB_H,fill:c,stroke:'#000','stroke-width':1.3});
  
  
});
colorbarTicks.forEach((label,i)=>{
  const t = mk(cbar,'text',{x:CB_X+(i+1)*CB_W,y:1052.5,'font-size':28,'text-anchor':'middle'});
  t.textContent = label;
  
  
});
</script>
</body>
</html>
